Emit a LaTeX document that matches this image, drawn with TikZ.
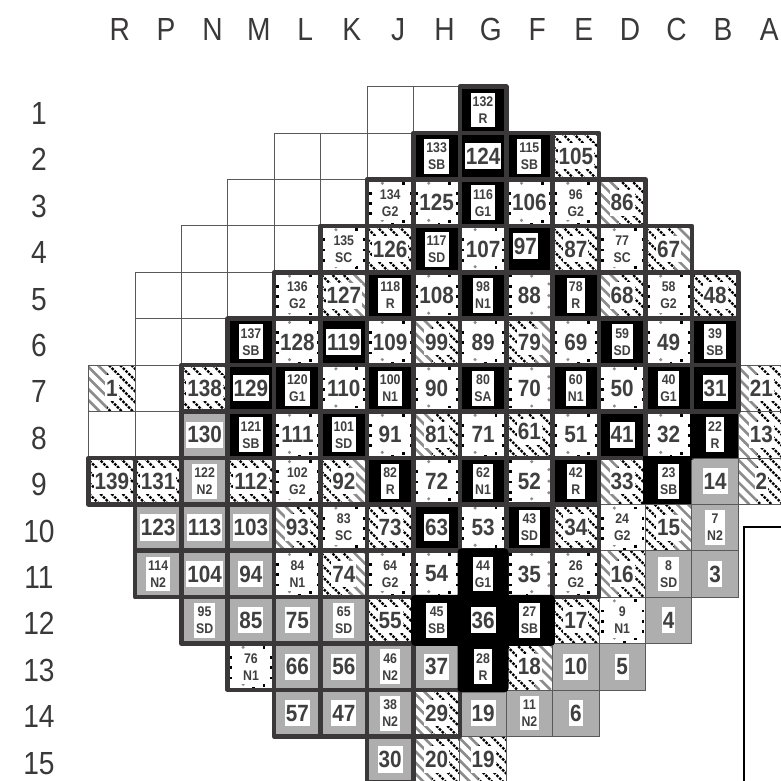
\documentclass[tikz,border=0pt]{standalone}
\usepackage{fontspec}
\setmainfont[FakeStretch=0.88]{Liberation Sans}
\usetikzlibrary{positioning,calc}

\definecolor{rimdark}{HTML}{3A3838}
\definecolor{fuelgray}{HTML}{AEAEAE}
\definecolor{numdark}{HTML}{3F3F3F}
\definecolor{stripegray}{HTML}{8C8C8C}

\tikzset{
  thinline/.style={draw=black!65,line width=0.9pt},
  thickline/.style={draw=rimdark,line width=4.6pt,line join=round},
  blackrim/.style={draw=black,line width=4.6pt},
  blackstripe/.style={draw=black,line width=2.3pt,dash pattern=on 2.6pt off 1.3pt},
  graystripe/.style={draw=stripegray,line width=2.6pt},
  rodbox/.style={fill=white,text=numdark,align=center,font=\bfseries},
  bignum/.style={rodbox,inner xsep=1pt,inner ysep=4.8pt,font=\fontsize{23.5}{23.5}\selectfont\bfseries},
  smallnum/.style={rodbox,inner xsep=2pt,inner ysep=4pt,font=\fontsize{14}{17}\selectfont\bfseries},
  axislabel/.style={text=rimdark,inner sep=0pt,text height=23pt,text depth=0pt,font=\fontsize{32}{32}\selectfont},
  rod97/.style={xshift=-4pt,yshift=3pt},
  rod61/.style={yshift=3pt},
  rodgray/.pic={\fill[fuelgray] (0,0) rectangle (1,1);},
  rodblack/.pic={\fill[black] (0,0) rectangle (1,1);},
  hk/.pic={\begin{scope}
      \clip (0,0) rectangle (1,1);
      \foreach \hoff in {-1,-0.76,...,1} \draw[blackstripe] (\hoff,0) -- ++(1,1);
    \end{scope}},
  hl/.pic={\begin{scope}
      \clip (0,0) rectangle (0.4,1);
      \foreach \hoff in {-1,-0.76,...,1} \draw[graystripe] (\hoff,0) -- ++(1,1);
    \end{scope}
    \begin{scope}
      \clip (0.4,0) rectangle (1,1);
      \foreach \hoff in {-1,-0.76,...,1} \draw[blackstripe] (\hoff,0) -- ++(1,1);
    \end{scope}},
  hr/.pic={\begin{scope}
      \clip (0.62,0) rectangle (1,1);
      \foreach \hoff in {-1,-0.76,...,1} \draw[graystripe] (\hoff,0) -- ++(1,1);
    \end{scope}
    \begin{scope}
      \clip (0,0) rectangle (0.62,1);
      \foreach \hoff in {-1,-0.76,...,1} \draw[blackstripe] (\hoff,0) -- ++(1,1);
    \end{scope}},
  da/.pic={
    \foreach \dotx/\doty in {0.78/0.08,0.78/0.9,0.55/0.97,0.95/0.3,0.95/0.52,0.95/0.74,0.07/0.3,0.07/0.52,0.07/0.74}
      \fill[black] (\dotx,\doty) +(-0.03,-0.03) rectangle +(0.03,0.03);
    \foreach \dotx/\doty in {0.33/0.08,0.33/0.88}
      \fill[stripegray] (\dotx,\doty) circle[radius=1.7pt];},
  db/.pic={
    \foreach \dotx/\doty in {0.1/0.08,0.1/0.9,0.1/0.3,0.1/0.52,0.1/0.74,0.45/0.97}
      \fill[black] (\dotx,\doty) +(-0.03,-0.03) rectangle +(0.03,0.03);
    \foreach \dotx/\doty in {0.55/0.08,0.55/0.88,0.92/0.25,0.92/0.5,0.92/0.75}
      \fill[stripegray] (\dotx,\doty) circle[radius=1.7pt];},
}

\def\rodlist{8/0/132/R/rodblack,
  7/1/133/SB/rodblack,8/1/124//rodblack,9/1/115/SB/rodblack,10/1/105//hk,
  6/2/134/G2/da,7/2/125//da,8/2/116/G1/rodblack,9/2/106//da,10/2/96/G2/da,11/2/86//hl,
  5/3/135/SC/da,6/3/126//hk,7/3/117/SD/rodblack,8/3/107//da,9/3/97//rodblack,10/3/87//hk,11/3/77/SC/da,12/3/67//hr,
  4/4/136/G2/da,5/4/127//hr,6/4/118/R/rodblack,7/4/108//da,8/4/98/N1/rodblack,9/4/88//db,10/4/78/R/rodblack,11/4/68//hl,12/4/58/G2/da,13/4/48//hk,
  3/5/137/SB/rodblack,4/5/128//da,5/5/119//rodblack,6/5/109//da,7/5/99//hl,8/5/89//da,9/5/79//hr,10/5/69//da,11/5/59/SD/rodblack,12/5/49//da,13/5/39/SB/rodblack,
  0/6/1//hl,2/6/138//hk,3/6/129//rodblack,4/6/120/G1/rodblack,5/6/110//da,6/6/100/N1/rodblack,7/6/90//da,8/6/80/SA/rodblack,9/6/70//db,10/6/60/N1/rodblack,11/6/50//da,12/6/40/G1/rodblack,13/6/31//rodblack,14/6/21//hl,
  2/7/130//rodgray,3/7/121/SB/rodblack,4/7/111//da,5/7/101/SD/rodblack,6/7/91//da,7/7/81//hl,8/7/71//da,9/7/61//hk,10/7/51//da,11/7/41//rodblack,12/7/32//da,13/7/22/R/rodblack,14/7/13//hl,
  0/8/139//hk,1/8/131//hk,2/8/122/N2/rodgray,3/8/112//hk,4/8/102/G2/da,5/8/92//hr,6/8/82/R/rodblack,7/8/72//da,8/8/62/N1/rodblack,9/8/52//db,10/8/42/R/rodblack,11/8/33//hl,12/8/23/SB/rodblack,13/8/14//rodgray,14/8/2//hl,
  1/9/123//rodgray,2/9/113//rodgray,3/9/103//rodgray,4/9/93//hl,5/9/83/SC/da,6/9/73//hk,7/9/63//rodblack,8/9/53//da,9/9/43/SD/rodblack,10/9/34//hk,11/9/24/G2/da,12/9/15//hr,13/9/7/N2/rodgray,
  1/10/114/N2/rodgray,2/10/104//rodgray,3/10/94//rodgray,4/10/84/N1/da,5/10/74//hr,6/10/64/G2/da,7/10/54//da,8/10/44/G1/rodblack,9/10/35//db,10/10/26/G2/da,11/10/16//hl,12/10/8/SD/rodgray,13/10/3//rodgray,
  2/11/95/SD/rodgray,3/11/85//rodgray,4/11/75//rodgray,5/11/65/SD/rodgray,6/11/55//hk,7/11/45/SB/rodblack,8/11/36//rodblack,9/11/27/SB/rodblack,10/11/17//hk,11/11/9/N1/da,12/11/4//rodgray,
  3/12/76/N1/da,4/12/66//rodgray,5/12/56//rodgray,6/12/46/N2/rodgray,7/12/37//rodgray,8/12/28/R/rodblack,9/12/18//hr,10/12/10//rodgray,11/12/5//rodgray,
  4/13/57//rodgray,5/13/47//rodgray,6/13/38/N2/rodgray,7/13/29//hl,8/13/19//rodgray,9/13/11/N2/rodgray,10/13/6//rodgray,
  6/14/30//rodgray,7/14/20//hl,8/14/19//hl}

\begin{document}
\begin{tikzpicture}[x=46.4pt,y=-46.4pt]
\useasboundingbox (-1.909,-1.869) rectangle (14.922,14.941);
\clip (-1.909,-1.869) rectangle (14.922,14.941);

% column letters and row numbers
\foreach \colname [count=\col from 0] in {R,P,N,M,L,K,J,H,G,F,E,D,C,B,A}
  \node[axislabel] (col\colname) at (\col+0.67,-1.243) {\colname};
\foreach \row in {1,...,15}
  \node[axislabel] (row\row) at (-1.07,\row-0.433) {\row};

% empty positions
\foreach \col/\row in {6/0,7/0,4/1,5/1,6/1,3/2,4/2,5/2,2/3,3/3,4/3,1/4,2/4,3/4,1/5,2/5,1/6,0/7,1/7}
  \draw[thinline] (\col,\row) rectangle +(1,1);

\foreach \col/\row/\rodnum/\rodsub/\rodkind in \rodlist {
  \pic at (\col,\row) {\rodkind};
  \draw[thinline] (\col,\row) rectangle +(1,1);
}

% core grid
\foreach \row/\colfrom/\colto in {0/8/8,1/7/10,2/6/11,3/5/12,4/4/13,5/3/13,6/2/13,7/2/12,8/0/10,9/1/10,10/1/10,11/2/6,12/3/7,13/4/7,14/6/6}
  \foreach \col in {\colfrom,...,\colto}
    \draw[thickline] (\col,\row) rectangle +(1,1);

% black rims
\draw[blackrim] (13,7.06) -- (13,8);
\draw[blackrim] (12,9) -- (12,8) -- (13,8);
\draw[blackrim,fill=black,rounded corners=2pt] (8,10) -- (9,10) -- (9,11) -- (10,11) -- (10,12) -- (9,12) -- (9,13) -- (8,13) -- (8,12) -- (7,12) -- (7,11) -- (8,11) -- cycle;

% frame at the right
\draw[black,line width=1.8pt] (14.125,15) -- (14.125,9.49) -- (15,9.49);

\foreach \col/\row/\rodnum/\rodsub/\rodkind in \rodlist {
  \ifx\rodsub\empty
    \node[bignum,rod\rodnum/.try] (rod-\col-\row) at (\col+0.5,\row+0.5) {\rodnum};
  \else
    \node[smallnum,rod\rodnum/.try] (rod-\col-\row) at (\col+0.5,\row+0.5) {\rodnum\\\rodsub};
  \fi
}
\end{tikzpicture}
\end{document}
